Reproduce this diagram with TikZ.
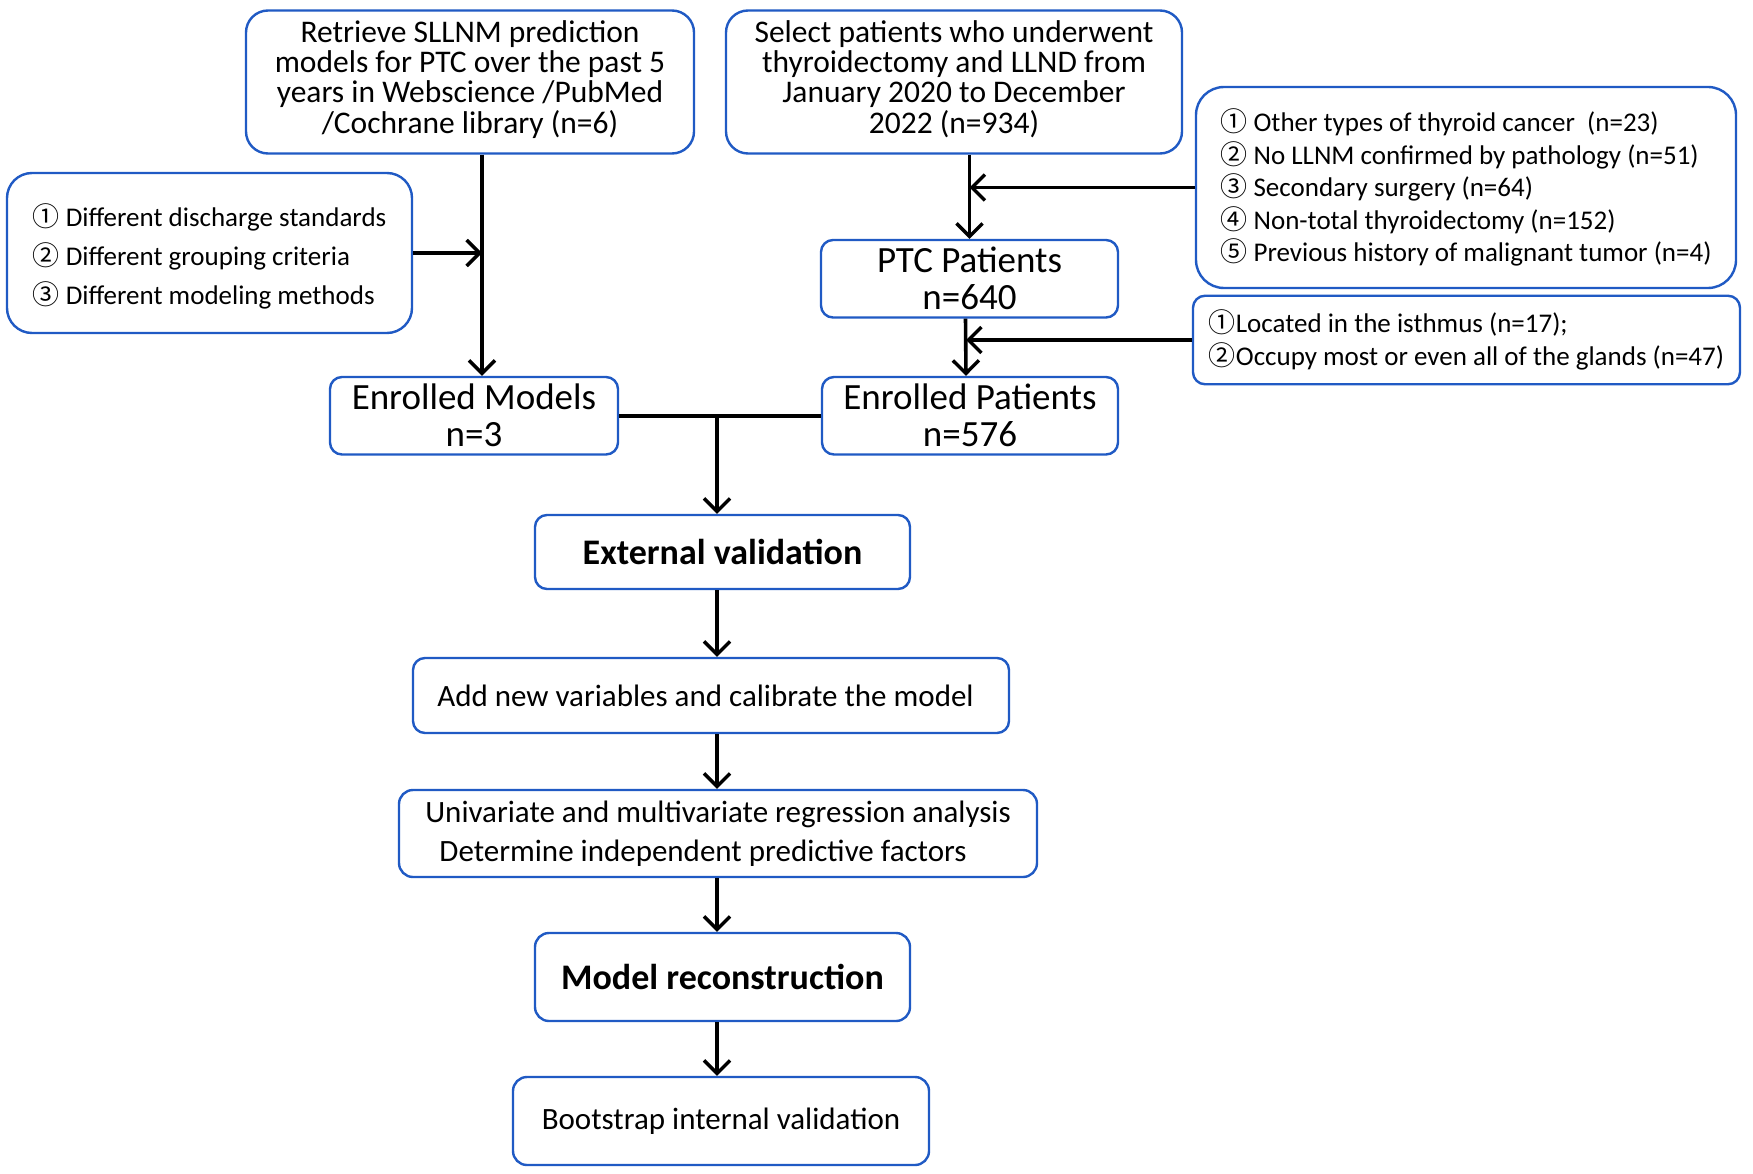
\documentclass[tikz,border=0pt]{standalone}
\usepackage{fontspec}
\setmainfont{Carlito}
\newfontfamily\cjk{Noto Sans CJK SC}
\usetikzlibrary{arrows.meta,calc}
\definecolor{boxblue}{RGB}{32,90,196}
\newcommand\cn[1]{{\cjk #1}}
\begin{document}
\begin{tikzpicture}[x=1pt,y=-1pt,
  box/.style={draw=boxblue,line width=2.4pt,rounded corners=#1,inner sep=0pt,align=center},
  box/.default=14pt,
  conn/.style={line width=3.6pt,black},
  arr/.style={conn,-{Straight Barb[length=13pt,width=26pt,line width=3.4pt]}},
  fA/.style={font=\fontsize{31.5}{30.3}\selectfont},
  fB/.style={font=\fontsize{27}{39}\selectfont},
  fC/.style={font=\fontsize{27}{32.5}\selectfont},
  fD/.style={font=\fontsize{37}{37}\selectfont},
  fE/.style={font=\fontsize{36}{36}\selectfont\bfseries},
  fF/.style={font=\fontsize{31}{39}\selectfont}]
\useasboundingbox (0,0) rectangle (1753,1174);
\fill[white] (0,0) rectangle (1753,1174);

\node[box=22pt,fA,minimum width=448pt,minimum height=143pt] (ret) at (470,82)
  {Retrieve SLLNM prediction\\models for PTC over the past 5\\years in Webscience /PubMed\\/Cochrane library (n=6)\\[-20pt]\mbox{}};
\node[box=22pt,fA,minimum width=456pt,minimum height=143pt] (sel) at (954,82)
  {Select patients who underwent\\thyroidectomy and LLND from\\January 2020 to December\\2022 (n=934)\\[-20pt]\mbox{}};
\node[box=25pt,fB,minimum width=405pt,minimum height=160pt,align=left] (dif) at (209.5,253)
  {\mbox{}\\[-9pt]\cn{①} Different discharge standards\\\cn{②} Different grouping criteria\\\cn{③} Different modeling methods};
\node[box=28pt,fC,minimum width=540pt,minimum height=201pt,align=left] (exc1) at (1466,187.5)
  {\cn{①} Other types of thyroid cancer\ \ (n=23)\\\cn{②} No LLNM confirmed by pathology (n=51)\\\cn{③} Secondary surgery (n=64)\\\cn{④} Non-total thyroidectomy (n=152)\\\cn{⑤} Previous history of malignant tumor (n=4)};
\node[box=12pt,fD,minimum width=297pt,minimum height=77.5pt] (ptc) at (969.5,278.75)
  {PTC Patients\\n=640};
\node[box=12pt,fC,minimum width=547pt,minimum height=88.5pt,align=left] (exc2) at (1466.5,340)
  {\cn{①}Located in the isthmus (n=17);\\\cn{②}Occupy most or even all of the glands (n=47)};
\node[box=12pt,fD,minimum width=288pt,minimum height=77.5pt] (em) at (474,415.75)
  {Enrolled Models\\n=3};
\node[box=12pt,fD,minimum width=296pt,minimum height=77.5pt] (ep) at (970,415.75)
  {Enrolled Patients\\n=576};
\node[box=12pt,fE,minimum width=375pt,minimum height=74pt] (ext) at (722.5,552)
  {External validation};
\node[box=12pt,fF,minimum width=596pt,minimum height=75pt] (add) at (711,695.5)
  {Add new variables and calibrate the model\hspace*{11pt}};
\node[box=14pt,fF,minimum width=638pt,minimum height=87pt] (uni) at (718,833.5)
  {Univariate and multivariate regression analysis\\Determine independent predictive factors\hspace*{30pt}};
\node[box=14pt,fE,minimum width=375pt,minimum height=88pt] (mod) at (722.5,977)
  {Model reconstruction};
\node[box=14pt,fF,minimum width=416pt,minimum height=88pt] (boot) at (721,1121)
  {Bootstrap internal validation};

\coordinate (c1) at (482,0);
\coordinate (j) at (717,415.75);

\draw[arr] (ret.south -| c1) -- (em.north -| c1);
\draw[arr] (dif.east) -- (dif.east -| c1);
\draw[arr] (sel.south -| ptc.north) -- (ptc.north);
\draw[arr] (exc1.west) -- (exc1.west -| ptc.north);
\draw[arr] ($(ptc.south)+(-4,0)$) -- ($(ep.north)+(-4,0)$);
\draw[arr] (exc2.west) -- ($(exc2.west -| ep.north)+(-4,0)$);
\draw[conn] (em.east) -- (ep.west);
\draw[arr] (j) -- (j |- ext.north);
\draw[arr] (ext.south -| j) -- (add.north -| j);
\draw[arr] (add.south -| j) -- (uni.north -| j);
\draw[arr] (uni.south -| j) -- (mod.north -| j);
\draw[arr] (mod.south -| j) -- (boot.north -| j);
\end{tikzpicture}
\end{document}
